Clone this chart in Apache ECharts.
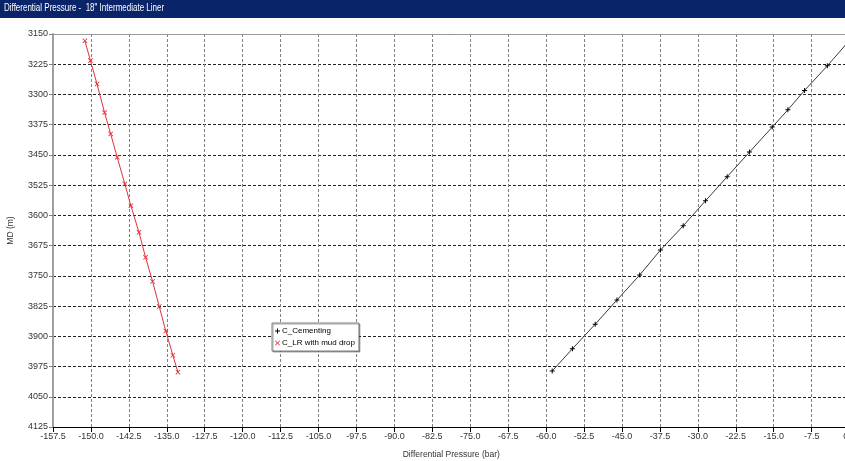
<!DOCTYPE html>
<html>
<head>
<meta charset="utf-8">
<script src="https://cdn.jsdelivr.net/npm/echarts@6/dist/echarts.min.js"></script>
<style>
html,body{margin:0;padding:0;background:#fff;}
#chart{width:845px;height:461px;}
</style>
</head>
<body>
<div id="chart"></div>
<script>
// ---- data ----
const titleText = 'Differential Pressure -  18" Intermediate Liner';
const seriesNames = ['C_Cementing', 'C_LR with mud drop'];

const dpCementing = [-0.1, -4.4, -8.9, -12.2, -15.3, -19.8, -24.2, -28.5, -32.9, -37.4, -41.5, -46.0, -50.3, -54.8, -58.8];
const mdCementing = [3167, 3229, 3290, 3338, 3381, 3443, 3504, 3564, 3626, 3686, 3748, 3810, 3870, 3931, 3986];

const dpLR = [-151.2, -150.1, -148.8, -147.3, -146.1, -144.8, -143.3, -142.1, -140.5, -139.2, -137.8, -136.5, -135.2, -133.8, -132.8];
const mdLR = [3167, 3216, 3274, 3345, 3398, 3456, 3522, 3576, 3642, 3704, 3764, 3826, 3887, 3947, 3989];

const xMin = -157.5, xMax = 0, xStep = 7.5;
const yMin = 3150, yMax = 4125, yStep = 75;
const xAxisName = 'Differential Pressure (bar)';
const yAxisName = 'MD (m)';

// ---- build ----
const FONT = "'Liberation Sans', Arial, sans-serif";
const plusPath = 'path://M4,0h2v10h-2z M0,4h10v2h-10z';
const crossPath = 'path://M0,1.2L1.2,0L5,3.8L8.8,0L10,1.2L6.2,5L10,8.8L8.8,10L5,6.2L1.2,10L0,8.8L3.8,5Z';

const zip = (xs, ys) => xs.map((x, i) => [x, ys[i]]);

const chart = echarts.init(document.getElementById('chart'), null, {renderer: 'canvas'});
chart.setOption({
  animation: false,
  backgroundColor: '#fff',
  graphic: [
    {type: 'rect', x: 0, y: 0, shape: {x: 0, y: 0, width: 845, height: 18}, style: {fill: '#0a246a'}, z: 0},
    {type: 'text', x: 4, y: 3, scaleX: 0.8, scaleY: 1,
     style: {x: 0, y: 0, text: titleText, fill: '#fff', font: '10px ' + FONT, verticalAlign: 'top'}, z: 1}
  ],
  grid: {left: 53, top: 34, right: -4.6, bottom: 34, outerBoundsMode: 'none', containLabel: false},
  legend: {
    orient: 'vertical',
    left: 272, top: 323,
    padding: [4, 4, 4, 3],
    itemGap: 4,
    itemWidth: 5, itemHeight: 5,
    backgroundColor: '#fff',
    borderColor: '#808080', borderWidth: 1,
    shadowColor: 'rgba(0,0,0,0.35)', shadowOffsetX: 1, shadowOffsetY: 1,
    textStyle: {fontFamily: FONT, fontSize: 8, color: '#000', padding: [0, 0, 0, -3]},
    data: [
      {name: seriesNames[0], icon: plusPath},
      {name: seriesNames[1], icon: crossPath}
    ]
  },
  xAxis: [{
    type: 'value', min: xMin, max: xMax, interval: xStep,
    position: 'bottom',
    name: xAxisName, nameLocation: 'middle', nameGap: 23,
    nameTextStyle: {fontFamily: FONT, fontSize: 8.5, color: '#333'},
    axisLine: {show: true, onZero: false, lineStyle: {color: '#000', width: 1}},
    axisTick: {show: true, length: 5, lineStyle: {color: '#000'}},
    axisLabel: {fontFamily: FONT, fontSize: 9, color: '#333', margin: 5, formatter: v => v.toFixed(1)},
    splitLine: {show: true, lineStyle: {color: '#808080', type: [3, 2], width: 1}}
  }, {
    type: 'value', min: xMin, max: xMax, interval: xStep,
    position: 'top',
    axisLine: {show: true, onZero: false, lineStyle: {color: '#9a9a9a', width: 1}},
    axisTick: {show: false}, axisLabel: {show: false}, splitLine: {show: false}
  }],
  yAxis: {
    type: 'value', min: yMin, max: yMax, interval: yStep, inverse: true,
    name: yAxisName, nameLocation: 'middle', nameGap: 38, nameRotate: 90,
    nameTextStyle: {fontFamily: FONT, fontSize: 8.5, color: '#333'},
    axisLine: {show: true, onZero: false, lineStyle: {color: '#a0a0a0', width: 2}},
    axisTick: {show: true, length: 4, lineStyle: {color: '#808080'}},
    axisLabel: {fontFamily: FONT, fontSize: 9, color: '#333', margin: 5, formatter: v => String(v)},
    splitLine: {show: true, lineStyle: {color: '#202020', type: [3, 2], width: 1}}
  },
  series: [
    {
      name: seriesNames[0], type: 'line', xAxisIndex: 0,
      data: zip(dpCementing, mdCementing),
      symbol: plusPath, symbolSize: 5, showAllSymbol: true,
      lineStyle: {color: '#3a3a3a', width: 1},
      itemStyle: {color: '#000'},
      clip: true
    },
    {
      name: seriesNames[1], type: 'line', xAxisIndex: 0,
      data: zip(dpLR, mdLR),
      symbol: crossPath, symbolSize: 5, showAllSymbol: true,
      lineStyle: {color: '#e0323c', width: 1},
      itemStyle: {color: '#e0323c'},
      clip: true
    }
  ]
});
</script>
</body>
</html>
